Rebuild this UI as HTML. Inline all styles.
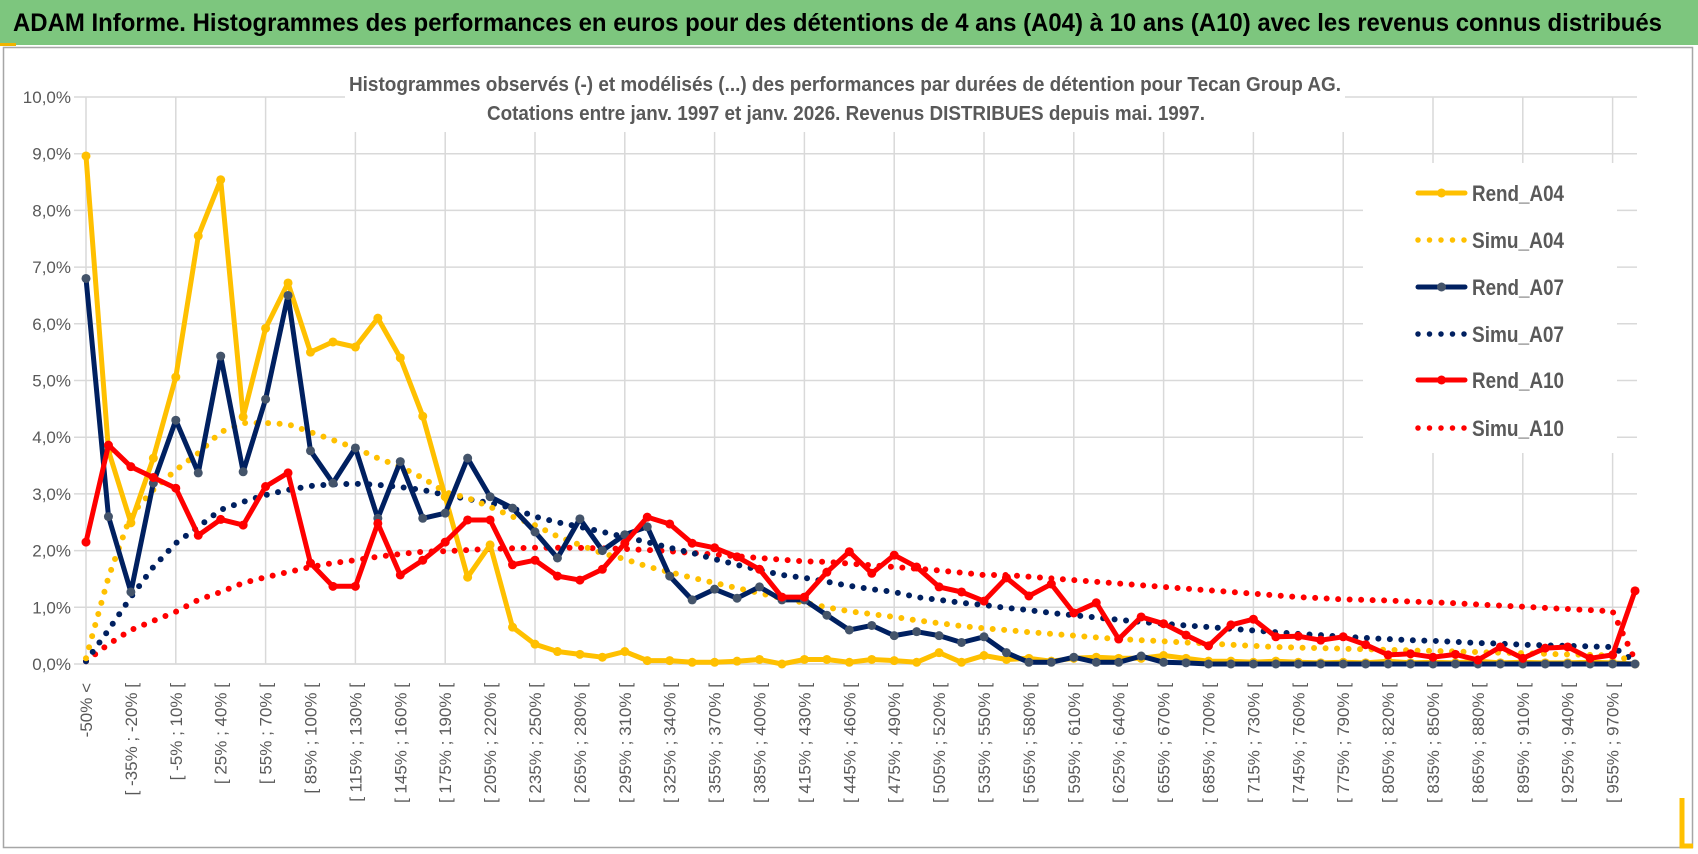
<!DOCTYPE html>
<html><head><meta charset="utf-8"><style>
html,body{margin:0;padding:0;background:#fff;width:1698px;height:854px;overflow:hidden;}
svg{display:block;font-family:"Liberation Sans",sans-serif;}
</style></head><body>
<svg id="chart" width="1698" height="854" viewBox="0 0 1698 854" xmlns="http://www.w3.org/2000/svg">
<rect x="0" y="0" width="1698" height="854" fill="#fff"/>
<rect x="0" y="0" width="1698" height="45" fill="#7dc67e"/>
<rect x="0" y="43" width="16" height="3" fill="#f0b400"/>
<text x="13" y="31" font-size="25" font-weight="bold" fill="#000" textLength="1649" lengthAdjust="spacingAndGlyphs">ADAM Informe. Histogrammes des performances en euros pour des détentions de 4 ans (A04) à 10 ans (A10) avec les revenus connus distribués</text>
<rect x="3.5" y="47.5" width="1689" height="800" fill="none" stroke="#a6a6a6" stroke-width="1.5"/>
<path d="M1682 798 V846 H1693" fill="none" stroke="#ffc000" stroke-width="5"/>
<g id="grid"></g>
<rect x="345" y="66" width="1000" height="66" fill="#fff"/>
<rect x="1363" y="163" width="254" height="290" fill="#fff"/>
<text x="845" y="91" font-size="20" font-weight="bold" fill="#595959" text-anchor="middle" textLength="992" lengthAdjust="spacingAndGlyphs">Histogrammes observés (-) et modélisés (...) des performances par durées de détention pour Tecan Group AG.</text>
<text x="846" y="120" font-size="20" font-weight="bold" fill="#595959" text-anchor="middle" textLength="718" lengthAdjust="spacingAndGlyphs">Cotations entre janv. 1997 et janv. 2026. Revenus DISTRIBUES depuis mai. 1997.</text>
<g id="yaxis"></g>
<g id="xaxis"></g>
<g id="series"></g>
<g id="legend"></g>
</svg>
<script>
const yTicks = [0,1,2,3,4,5,6,7,8,9,10];
const yTickLabels = ["0,0%","1,0%","2,0%","3,0%","4,0%","5,0%","6,0%","7,0%","8,0%","9,0%","10,0%"];
const categoryCount = 70;
const rendA04 = [8.96,3.76,2.49,3.63,5.06,7.55,8.54,4.36,5.92,6.72,5.50,5.68,5.59,6.10,5.40,4.37,2.95,1.53,2.10,0.65,0.35,0.22,0.17,0.12,0.22,0.06,0.06,0.03,0.03,0.05,0.08,0.0,0.08,0.08,0.03,0.08,0.06,0.03,0.2,0.03,0.15,0.08,0.1,0.05,0.1,0.12,0.1,0.1,0.15,0.1,0.05,0.05,0.03,0.05,0.03,0.02,0.03,0.02,0.05,0.02,0.03,0.02,0.05,0.02,0.03,0.02,0.02,0.03,0.02,0.0];
const simuA04 = [0.1,1.53,2.63,3.07,3.42,3.72,4.09,4.25,4.25,4.23,4.09,3.95,3.81,3.63,3.48,3.28,3.03,2.93,2.77,2.6,2.45,2.25,2.1,1.95,1.85,1.72,1.62,1.52,1.43,1.34,1.25,1.16,1.08,1.0,0.93,0.88,0.83,0.77,0.72,0.67,0.63,0.6,0.56,0.53,0.5,0.47,0.44,0.42,0.4,0.38,0.36,0.34,0.32,0.3,0.29,0.28,0.27,0.26,0.25,0.24,0.23,0.22,0.21,0.2,0.19,0.18,0.17,0.16,0.15,0.05];
const rendA07 = [6.8,2.6,1.27,3.19,4.3,3.37,5.43,3.39,4.67,6.5,3.76,3.19,3.81,2.57,3.57,2.57,2.66,3.63,2.95,2.75,2.33,1.87,2.56,2.0,2.28,2.42,1.55,1.13,1.32,1.16,1.36,1.13,1.13,0.86,0.6,0.68,0.5,0.57,0.5,0.38,0.48,0.2,0.03,0.03,0.12,0.03,0.03,0.14,0.03,0.02,0,0,0,0,0,0,0,0,0,0,0,0,0,0,0,0,0,0,0,0];
const simuA07 = [0.05,0.6,1.18,1.71,2.13,2.42,2.72,2.86,2.98,3.07,3.14,3.17,3.18,3.16,3.12,3.07,2.98,2.91,2.84,2.75,2.6,2.5,2.42,2.33,2.24,2.15,2.05,1.96,1.85,1.75,1.66,1.57,1.52,1.45,1.38,1.32,1.27,1.18,1.13,1.08,1.04,0.99,0.95,0.9,0.86,0.82,0.78,0.74,0.71,0.68,0.65,0.62,0.59,0.56,0.53,0.51,0.48,0.46,0.44,0.42,0.41,0.39,0.37,0.36,0.34,0.33,0.32,0.31,0.3,0.05];
const rendA10 = [2.15,3.86,3.48,3.29,3.1,2.27,2.55,2.45,3.13,3.37,1.78,1.37,1.37,2.48,1.57,1.83,2.15,2.54,2.54,1.75,1.83,1.55,1.48,1.67,2.13,2.59,2.47,2.13,2.05,1.89,1.67,1.18,1.18,1.62,1.98,1.6,1.92,1.71,1.36,1.27,1.11,1.52,1.2,1.41,0.9,1.08,0.44,0.83,0.71,0.51,0.32,0.69,0.79,0.48,0.49,0.42,0.48,0.34,0.16,0.18,0.12,0.17,0.07,0.3,0.1,0.28,0.3,0.1,0.16,1.29];
const simuA10 = [0.05,0.35,0.6,0.76,0.92,1.13,1.27,1.43,1.53,1.62,1.71,1.78,1.83,1.89,1.94,1.98,1.99,2.01,2.03,2.04,2.05,2.05,2.05,2.04,2.03,2.01,1.99,1.96,1.93,1.9,1.87,1.84,1.81,1.8,1.77,1.74,1.71,1.68,1.65,1.61,1.57,1.57,1.54,1.51,1.48,1.45,1.42,1.39,1.36,1.33,1.3,1.27,1.24,1.21,1.18,1.16,1.14,1.13,1.12,1.1,1.09,1.07,1.05,1.03,1.01,0.99,0.97,0.95,0.93,0.07];
const seriesNames = ["Rend_A04","Simu_A04","Rend_A07","Simu_A07","Rend_A10","Simu_A10"];

const NS = "http://www.w3.org/2000/svg";
const X0 = 86, DX = 22.45, Y0 = 664, DY = 56.7;
function xs(i){ return X0 + i*DX; }
function ys(v){ return Y0 - v*DY; }
function mk(tag, attrs, parent){
  const e = document.createElementNS(NS, tag);
  for (const k in attrs) e.setAttribute(k, attrs[k]);
  parent.appendChild(e); return e;
}
function catLabel(i){
  if (i === 0) return "-50% <";
  const a = -50 + 15*(i-1);
  return "[ " + a + "% ; " + (a+15) + "% [";
}
const grid = document.getElementById('grid');
yTicks.forEach(t => {
  const l = mk('line',{x1:X0-12,x2:1637,y1:ys(t),y2:ys(t),stroke:'#d9d9d9','stroke-width':1.5},grid);
  
  
});
for (let i=4;i<categoryCount;i+=4){
  const l = mk('line',{x1:xs(i),x2:xs(i),y1:ys(10),y2:Y0,stroke:'#d9d9d9','stroke-width':1.5},grid);
  
  
}
const yaxis = document.getElementById('yaxis');
yTicks.forEach((t,k) => {
  const tx = mk('text',{x:71,y:ys(t)+6,'font-size':17,fill:'#595959','text-anchor':'end'},yaxis);
  tx.textContent = yTickLabels[k];
  
  
});
const axl = mk('line',{x1:X0,x2:X0,y1:ys(10),y2:Y0,stroke:'#d9d9d9','stroke-width':1.5},yaxis);


const xaxis = document.getElementById('xaxis');
const xl = mk('line',{x1:X0,x2:xs(categoryCount-1),y1:Y0,y2:Y0,stroke:'#d9d9d9','stroke-width':1.5},xaxis);


for (let i=0;i<categoryCount;i+=2){
  const tx = mk('text',{x:0,y:0,'font-size':17,fill:'#595959','text-anchor':'end',transform:'translate('+(xs(i)+6)+',683) rotate(-90)'},xaxis);
  tx.textContent = catLabel(i);
  
  
}
const sg = document.getElementById('series');
function pts(arr){ return arr.map((v,i)=>xs(i).toFixed(1)+','+ys(v).toFixed(1)).join(' '); }
function dotted(arr,color,name){
  const p = mk('polyline',{points:pts(arr),fill:'none',stroke:color,'stroke-width':6,'stroke-linecap':'round','stroke-dasharray':'0 11.5'},sg);
  
  
}
function solid(arr,color,mcolor,name){
  const p = mk('polyline',{points:pts(arr),fill:'none',stroke:color,'stroke-width':5,'stroke-linejoin':'round'},sg);
  
  
  arr.forEach((v,i)=>{
    const c = mk('circle',{cx:xs(i),cy:ys(v),r:4.5,fill:mcolor},sg);
    
    
  });
}
dotted(simuA10,'#ff0000','simu-a10-line');
dotted(simuA07,'#002060','simu-a07-line');
dotted(simuA04,'#ffc000','simu-a04-line');
solid(rendA04,'#ffc000','#ffc000','rend-a04-line');
solid(rendA07,'#002060','#44546a','rend-a07-line');
solid(rendA10,'#ff0000','#ff0000','rend-a10-line');

const lg = document.getElementById('legend');
const legendColors = ['#ffc000','#ffc000','#002060','#002060','#ff0000','#ff0000'];
const legendMarker = ['#ffc000',null,'#44546a',null,'#ff0000',null];
const legendY = [193,240,287,334,380,428];
seriesNames.forEach((n,k)=>{
  const g = mk('g',{},lg);
  
  
  const y = legendY[k];
  if (legendMarker[k]){
    mk('line',{x1:1418,x2:1465,y1:y,y2:y,stroke:legendColors[k],'stroke-width':5,'stroke-linecap':'round'},g);
    mk('circle',{cx:1441.5,cy:y,r:4.5,fill:legendMarker[k]},g);
  } else {
    mk('line',{x1:1418,x2:1466,y1:y,y2:y,stroke:legendColors[k],'stroke-width':5.5,'stroke-linecap':'round','stroke-dasharray':'0 11.5'},g);
  }
  const t = mk('text',{x:1472,y:y+8,'font-size':22,fill:'#595959','font-weight':'bold',textLength:92,lengthAdjust:'spacingAndGlyphs'},g);
  t.textContent = n;
});
</script>
</body></html>
